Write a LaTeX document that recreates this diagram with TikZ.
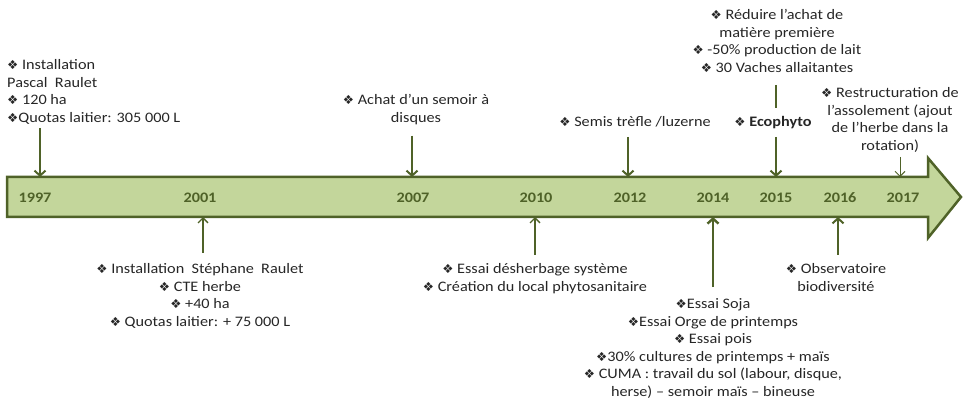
\documentclass[tikz,border=0pt]{standalone}
\usepackage{fontspec}
\setmainfont{Carlito}[FakeStretch=1.12]
\newfontfamily\bulfont{DejaVu Sans}
\usetikzlibrary{arrows.meta}
\definecolor{olivedk}{HTML}{4F6228}
\definecolor{olivelt}{HTML}{C3D69B}
\definecolor{txtgray}{HTML}{262626}
\newcommand{\bul}{{\bulfont\fontsize{12.5}{10}\selectfont ❖}}
\tikzset{
  txt/.style={inner sep=0pt, text=txtgray, font=\fontsize{14.5}{17.6}\selectfont},
  yr/.style={inner sep=0pt, text=olivedk, font=\fontsize{14.5}{17}\selectfont\bfseries},
  conn/.style={draw=olivedk, line width=2pt, -{Straight Barb[length=5pt,width=11pt]}},
  connthick/.style={conn, line width=2.4pt},
  connmid/.style={draw=olivedk, line width=1.3pt, -{Straight Barb[length=5pt,width=10pt]}},
  connthin/.style={draw=olivedk, line width=1pt, -{Straight Barb[length=5pt,width=10pt]}},
  seg/.style={draw=olivedk, line width=2pt},
  timeline/.style={draw=olivedk, fill=olivelt, line width=2.5pt, line join=miter}
}
\begin{document}
\begin{tikzpicture}[x=1pt, y=-1pt]
\useasboundingbox (0,0) rectangle (964,406);

% timeline arrow
\draw[timeline] (7,177) -- (928,177) -- (928,158) -- (961,197) -- (928,238) -- (928,217) -- (7,217) -- cycle;

% years
\node[yr] (y1997) at (35,198) {1997};
\node[yr] (y2001) at (200,198) {2001};
\node[yr] (y2007) at (413,198) {2007};
\node[yr] (y2010) at (536,198) {2010};
\node[yr] (y2012) at (630,198) {2012};
\node[yr] (y2014) at (713,198) {2014};
\node[yr] (y2015) at (776,198) {2015};
\node[yr] (y2016) at (840,198) {2016};
\node[yr] (y2017) at (903,198) {2017};

% arrow end points on the timeline
\coordinate (u1997) at (40,177);
\coordinate (u2007) at (412,177);
\coordinate (u2012) at (628,177);
\coordinate (u2015) at (776,177);
\coordinate (u2017) at (900,177);
\coordinate (d2001) at (203,217);
\coordinate (d2010) at (535,217);
\coordinate (d2014) at (713,217);
\coordinate (d2016) at (838,217);

% top texts
\node[txt, align=left, anchor=north west] (T1997) at (7,57)
  {\strut\bul\ Installation\\Pascal\ \ Raulet\\\bul\ 120 ha\\\bul Quotas laitier: 305 000 L\strut};
\node[txt, align=center, anchor=north] (T2007) at (416,92)
  {\strut\bul\ Achat d’un semoir à\\disques\strut};
\node[txt, align=center, anchor=north] (T2012) at (635,114)
  {\strut\bul\ Semis trèfle /luzerne\strut};
\node[txt, align=center, anchor=north] (T2015b) at (773,114)
  {\strut\bul\ \textbf{Ecophyto}\strut};
\node[txt, align=center, anchor=north] (T2015a) at (777,7)
  {\strut\bul\ Réduire l’achat de\\matière première\\\bul\ -50\% production de lait\\\bul\ 30 Vaches allaitantes\strut};
\node[txt, align=center, anchor=north] (T2017) at (890,85)
  {\strut\bul\ Restructuration de\\l’assolement (ajout\\de l’herbe dans la\\rotation)\strut};

% bottom texts
\node[txt, align=center, anchor=north] (B2001) at (200,261)
  {\strut\bul\ Installation\ \ Stéphane\ \ Raulet\\\bul\ CTE herbe\\\bul\ +40 ha\\\bul\ Quotas laitier: + 75 000 L\strut};
\node[txt, align=center, anchor=north] (B2010) at (535,261)
  {\strut\bul\ Essai désherbage système\\\bul\ Création du local phytosanitaire\strut};
\node[txt, align=center, anchor=north] (B2014) at (713,296)
  {\strut\bul Essai Soja\\\bul Essai Orge de printemps\\\bul\ Essai pois\\\bul 30\% cultures de printemps + maïs\\\bul\ CUMA : travail du sol (labour, disque,\\herse) – semoir maïs – bineuse\strut};
\node[txt, align=center, anchor=north] (B2016) at (836,261)
  {\strut\bul\ Observatoire\\biodiversité\strut};

% connectors from above
\draw[conn] (T1997.south -| u1997) -- (u1997);
\draw[conn, shorten <=8pt] (T2007.south -| u2007) -- (u2007);
\draw[conn, shorten <=5pt] (T2012.south -| u2012) -- (u2012);
\draw[seg, shorten <=7pt, shorten >=6pt] (T2015a.south -| u2015) -- (T2015b.north -| u2015);
\draw[conn, shorten <=5pt] (T2015b.south -| u2015) -- (u2015);
\draw[connthin, shorten <=1pt] (T2017.south -| u2017) -- (u2017);

% connectors from below
\draw[connmid, shorten <=8pt] (B2001.north -| d2001) -- (d2001);
\draw[connmid, shorten <=6pt] (B2010.north -| d2010) -- (d2010);
\draw[connthick, shorten <=9pt] (B2014.north -| d2014) -- (d2014);
\draw[conn, shorten <=6pt] (B2016.north -| d2016) -- (d2016);
\end{tikzpicture}
\end{document}
